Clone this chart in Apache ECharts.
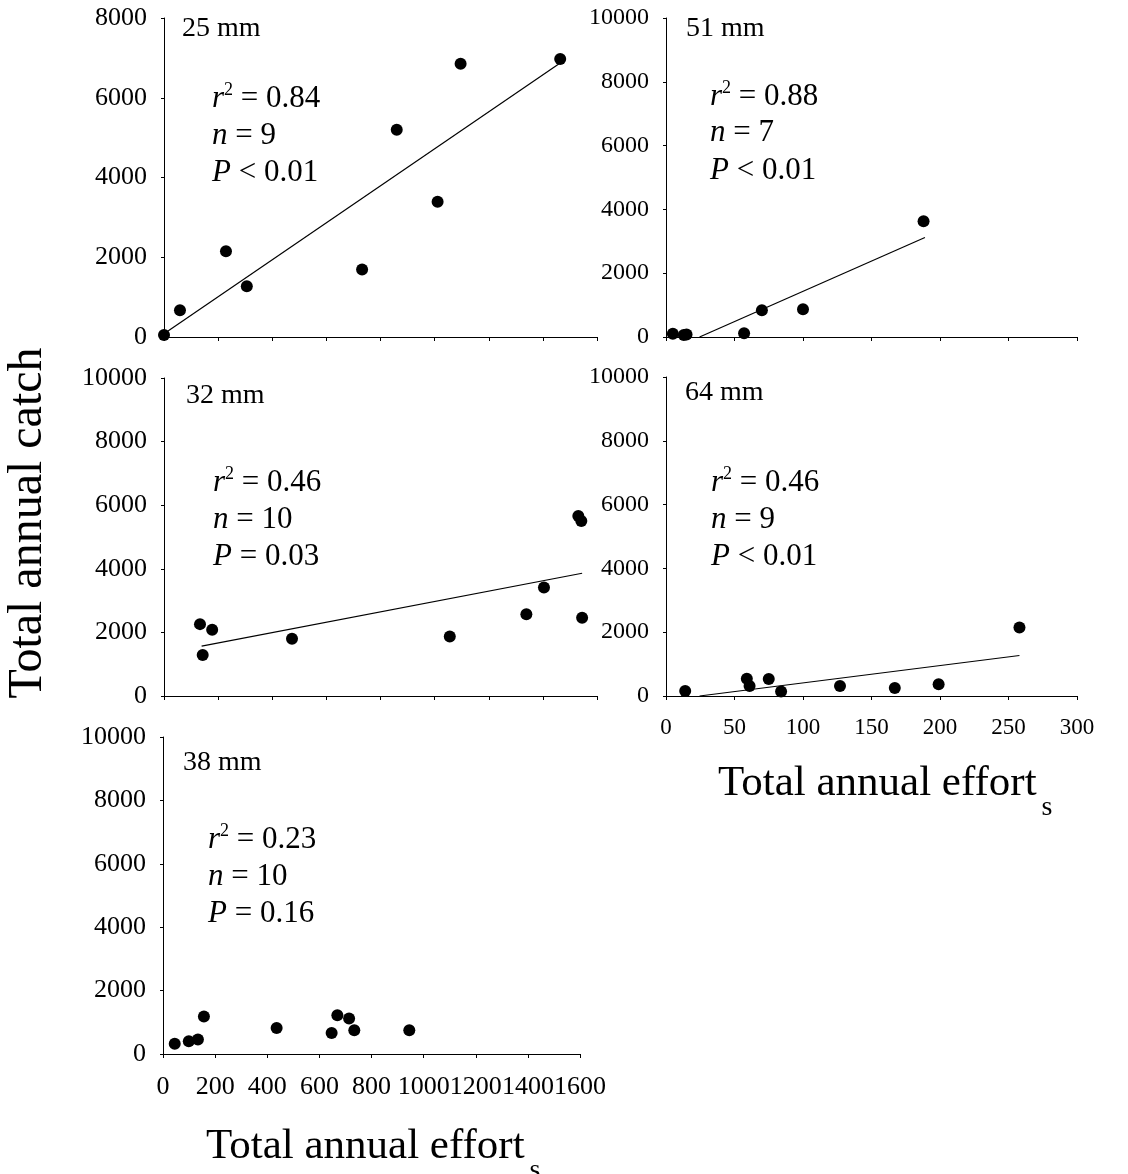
<!DOCTYPE html>
<html>
<head>
<meta charset="utf-8">
<title>Total annual catch vs. total annual effort by mesh size</title>
<script src="https://cdn.jsdelivr.net/npm/echarts@6/dist/echarts.min.js"></script>
<style>
  html, body { margin: 0; padding: 0; background: #fff; }
  #chart { width: 1128px; height: 1174px; }
</style>
</head>
<body>
<div id="chart"></div>
<script>
// ---- data: annual effort (x) and annual catch (y) by mesh size ----
const effort25 = [0, 59, 229, 306, 732, 860, 1011, 1096, 1464];
const catch25  = [50, 670, 2150, 1270, 1690, 5200, 3390, 6850, 6970];
const fit25    = [[0, 80], [1464, 6870]];

const effort51 = [5, 13, 15, 57, 70, 100, 188];
const catch51  = [100, 60, 80, 120, 840, 870, 3630];
const fit51    = [[24.5, 0], [189, 3120]];

const effort32 = [133, 143, 178, 473, 1056, 1339, 1404, 1531, 1542, 1545];
const catch32  = [2260, 1290, 2080, 1800, 1870, 2570, 3410, 5660, 5500, 2460];
const fit32    = [[139, 1570], [1545, 3860]];

const effort64 = [14, 59, 61, 75, 84, 127, 167, 199, 258];
const catch64  = [160, 540, 310, 530, 140, 310, 250, 370, 2150];
const fit64    = [[24.5, 0], [258, 1270]];

const effort38 = [45, 99, 134, 157, 436, 647, 669, 714, 734, 945];
const catch38  = [320, 400, 460, 1180, 820, 660, 1220, 1120, 750, 750];

const meshLabels = ['25 mm', '51 mm', '32 mm', '64 mm', '38 mm'];
const r2Values   = ['0.84', '0.88', '0.46', '0.46', '0.23'];
const nValues    = ['9', '7', '10', '9', '10'];
const pValues    = ['< 0.01', '< 0.01', '= 0.03', '< 0.01', '= 0.16'];

// ---- layout ----
const SERIF = "'Liberation Serif', 'Times New Roman', serif";
const grids = [
  { left: 164, top: 18,  width: 433, height: 319 },
  { left: 666, top: 18,  width: 411, height: 319 },
  { left: 164, top: 378, width: 433, height: 318 },
  { left: 666, top: 377, width: 411, height: 319 },
  { left: 163, top: 737, width: 417, height: 317 }
];
// x range per panel, y max per panel, whether x tick labels are drawn
const xMax   = [1600, 300, 1600, 300, 1600];
const xStep  = [200, 50, 200, 50, 200];
const yMax   = [8000, 10000, 10000, 10000, 10000];
const xLabel = [false, false, false, true, true];
// tick label size: left column panels use a slightly larger face
const yFont  = [26, 24, 26, 24, 26];
const xFont  = [26, 23, 26, 23, 26];

const panels = [
  { x: effort25, y: catch25, fit: fit25 },
  { x: effort51, y: catch51, fit: fit51 },
  { x: effort32, y: catch32, fit: fit32 },
  { x: effort64, y: catch64, fit: fit64 },
  { x: effort38, y: catch38, fit: null }
];

const axisLine = { show: true, lineStyle: { color: '#000', width: 1 } };
function labelStyle(size) {
  return { fontFamily: SERIF, fontSize: size, color: '#000', formatter: v => String(v) };
}

const xAxes = grids.map((g, i) => ({
  type: 'value', gridIndex: i, min: 0, max: xMax[i], interval: xStep[i],
  axisLine: axisLine,
  axisTick: { show: true, inside: false, length: 4, lineStyle: { color: '#000' } },
  axisLabel: Object.assign({ show: xLabel[i], margin: 20, hideOverlap: false }, labelStyle(xFont[i])),
  splitLine: { show: false }
}));
const yAxes = grids.map((g, i) => ({
  type: 'value', gridIndex: i, min: 0, max: yMax[i], interval: 2000,
  axisLine: axisLine,
  axisTick: { show: true, inside: false, length: 3, lineStyle: { color: '#000' } },
  axisLabel: Object.assign({ show: true, margin: 17 }, labelStyle(yFont[i])),
  splitLine: { show: false }
}));

const series = [];
panels.forEach((p, i) => {
  series.push({
    type: 'scatter', xAxisIndex: i, yAxisIndex: i,
    data: p.x.map((v, k) => [v, p.y[k]]),
    symbol: 'circle', symbolSize: 12,
    itemStyle: { color: '#000', opacity: 1 },
    z: 3
  });
  if (p.fit) {
    series.push({
      type: 'line', xAxisIndex: i, yAxisIndex: i,
      data: p.fit, symbol: 'none',
      lineStyle: { color: '#000', width: 1.2 },
      z: 2
    });
  }
});

// ---- text helpers: runs of text placed on a common baseline ----
const mctx = document.createElement('canvas').getContext('2d');
function textWidth(t, size, italic) {
  mctx.font = (italic ? 'italic ' : '') + size + 'px ' + SERIF;
  return mctx.measureText(t).width;
}
function textRun(x, baseline, parts) {
  let cx = x;
  const out = [];
  parts.forEach(p => {
    const size = p.size;
    out.push({
      type: 'text', x: cx + (p.dx || 0), y: baseline + (p.dy || 0) - 0.32 * size,
      style: {
        text: p.t, fontFamily: SERIF, fontSize: size,
        fontStyle: p.italic ? 'italic' : 'normal',
        fill: '#000', align: 'left', verticalAlign: 'middle'
      },
      silent: true
    });
    cx += (p.dx || 0) + textWidth(p.t, size, p.italic);
  });
  return out;
}

// panel caption and statistics positions (left, baselines)
const captionPos = [[182, 38], [686, 38], [186, 405], [685, 402], [183, 772]];
const statsPos   = [[212, [109, 146, 183]], [710, [107, 143, 181]],
                    [213, [493, 530, 567]], [711, [493, 530, 567]],
                    [208, [850, 887, 924]]];
const STAT = 31, SUP = 18, CAP = 28;

let graphics = [];
meshLabels.forEach((lab, i) => {
  graphics = graphics.concat(textRun(captionPos[i][0], captionPos[i][1], [{ t: lab, size: CAP }]));
  const sx = statsPos[i][0], b = statsPos[i][1];
  graphics = graphics.concat(textRun(sx, b[0], [
    { t: 'r', size: STAT, italic: true },
    { t: '2', size: SUP, dy: -13, dx: 0 },
    { t: ' = ' + r2Values[i], size: STAT }
  ]));
  graphics = graphics.concat(textRun(sx, b[1], [
    { t: 'n', size: STAT, italic: true },
    { t: ' = ' + nValues[i], size: STAT }
  ]));
  graphics = graphics.concat(textRun(sx, b[2], [
    { t: 'P', size: STAT, italic: true },
    { t: ' ' + pValues[i], size: STAT }
  ]));
});

// axis titles
const TITLE = 43;
graphics = graphics.concat(textRun(718, 797, [
  { t: 'Total annual effort', size: TITLE },
  { t: 's', size: 28, dy: 20, dx: 5 }
]));
graphics = graphics.concat(textRun(206, 1160, [
  { t: 'Total annual effort', size: TITLE },
  { t: 's', size: 28, dy: 20, dx: 5 }
]));
graphics.push({
  type: 'text', x: 28, y: 523, rotation: Math.PI / 2,
  style: {
    text: 'Total annual catch', fontFamily: SERIF, fontSize: 48,
    fill: '#000', align: 'center', verticalAlign: 'middle'
  },
  silent: true
});

const chart = echarts.init(document.getElementById('chart'), null, { renderer: 'canvas' });
chart.setOption({
  animation: false,
  backgroundColor: '#fff',
  grid: grids,
  xAxis: xAxes,
  yAxis: yAxes,
  series: series,
  graphic: { elements: graphics }
});
</script>
</body>
</html>
